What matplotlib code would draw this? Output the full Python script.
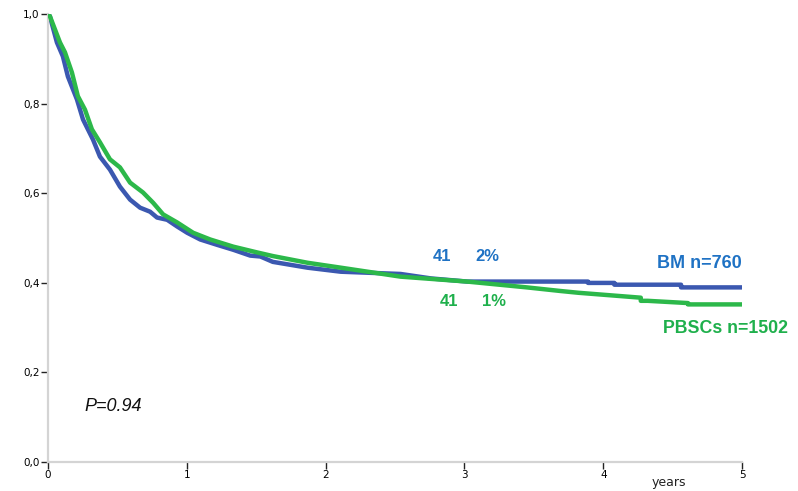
import matplotlib
matplotlib.use('Agg')
import matplotlib.pyplot as plt

# survival (years, probability)
bm_t = [0, 0.014, 0.065, 0.108, 0.144, 0.209, 0.253, 0.325, 0.375, 0.447, 0.519, 0.592,
        0.664, 0.736, 0.786, 0.859, 0.931, 1.003, 1.097, 1.219, 1.335, 1.457, 1.53,
        1.62, 1.87, 2.11, 2.54, 2.76, 3.02, 3.89, 3.89, 4.08, 4.08, 4.56, 4.56, 5.0]
bm_s = [1.0, 0.996, 0.937, 0.906, 0.861, 0.81, 0.765, 0.72, 0.682, 0.653, 0.615, 0.586,
        0.568, 0.559, 0.546, 0.541, 0.526, 0.512, 0.497, 0.485, 0.474, 0.461, 0.459,
        0.447, 0.434, 0.425, 0.42, 0.41, 0.403, 0.403, 0.40, 0.40, 0.396, 0.396, 0.39, 0.39]

pb_t = [0, 0.014, 0.087, 0.123, 0.173, 0.216, 0.267, 0.317, 0.375, 0.447, 0.519, 0.592,
        0.685, 0.758, 0.830, 0.931, 1.046, 1.169, 1.335, 1.508,
        1.62, 1.87, 2.11, 2.54, 3.02, 3.45, 3.69, 3.82, 4.27, 4.27, 4.32, 4.61, 4.61, 5.0]
pb_s = [1.0, 0.996, 0.937, 0.915, 0.87, 0.817, 0.787, 0.743, 0.714, 0.676, 0.658, 0.624,
        0.602, 0.579, 0.553, 0.535, 0.512, 0.497, 0.481, 0.468,
        0.46, 0.445, 0.434, 0.414, 0.403, 0.39, 0.382, 0.378, 0.367, 0.36, 0.36, 0.355, 0.352, 0.352]

yticks = [0, 0.2, 0.4, 0.6, 0.8, 1.0]
ylabels = ['0,0', '0,2', '0,4', '0,6', '0,8', '1,0']
xticks = [0, 1, 2, 3, 4, 5]

blue = '#3b58b0'
green = '#2cb84a'
blue_txt = '#1f72c4'
green_txt = '#1fb04c'

fig = plt.figure(figsize=(7.98, 4.91), dpi=100)
ax = fig.add_axes([0.060, 0.059, 0.870, 0.912])

ax.plot(pb_t, pb_s, color=green, lw=3.2, solid_capstyle='butt', zorder=3)
ax.plot(bm_t, bm_s, color=blue, lw=3.2, solid_capstyle='butt', zorder=2)

ax.set_xlim(0, 5)
ax.set_ylim(0, 1.0)
ax.set_yticks(yticks)
ax.set_yticklabels(ylabels)
ax.set_xticks(xticks)
ax.tick_params(labelsize=7.5, length=5, width=1, color='#222222', pad=1)

for s in ['top', 'right']:
    ax.spines[s].set_visible(False)
for s in ['left', 'bottom']:
    ax.spines[s].set_color('#d4d4d4')
    ax.spines[s].set_linewidth(1.6)
    ax.spines[s].set_clip_on(False)

ax.text(4.47, -0.045, 'years', fontsize=9, ha='center', va='center', color='#222222')

bold = dict(fontweight='bold', family='Liberation Sans', va='center')
ax.text(2.77, 0.459, '41', color=blue_txt, fontsize=12, ha='left', **bold)
ax.text(3.08, 0.459, '2%', color=blue_txt, fontsize=12, ha='left', **bold)
ax.text(2.82, 0.358, '41', color=green_txt, fontsize=12, ha='left', **bold)
ax.text(3.13, 0.358, '1%', color=green_txt, fontsize=12, ha='left', **bold)
ax.text(5.0, 0.443, 'BM n=760', color=blue_txt, fontsize=13, ha='right', **bold)
ax.text(4.43, 0.298, 'PBSCs n=1502', color=green_txt, fontsize=12.8, ha='left', clip_on=False, **bold)

ax.text(0.26, 0.125, 'P=0.94', fontsize=13, style='italic', family='Liberation Sans',
        ha='left', va='center', color='#111111')

fig.savefig('out.png', dpi=100)
